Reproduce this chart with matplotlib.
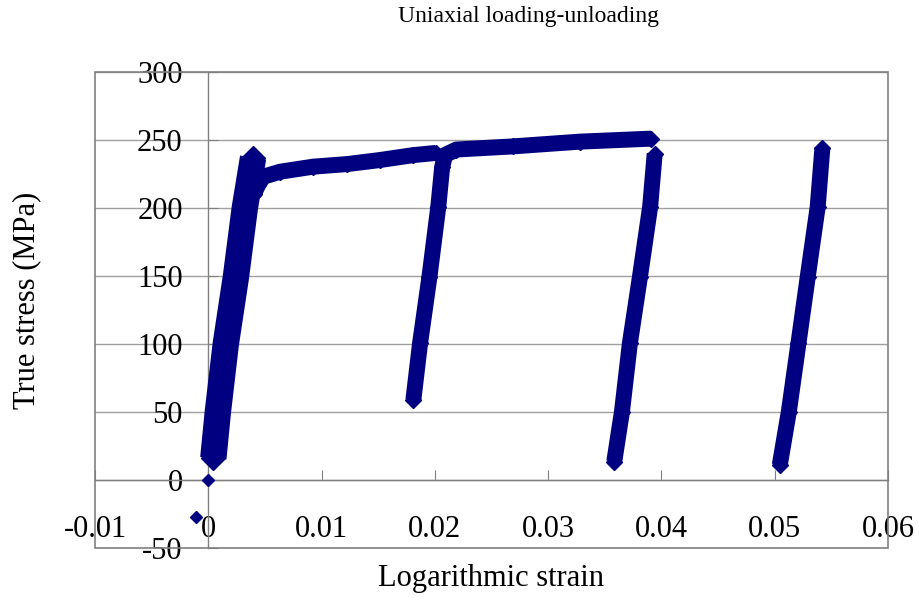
import matplotlib.pyplot as plt
from matplotlib.patches import Rectangle

plt.rcParams['font.family'] = ['Liberation Serif', 'DejaVu Serif']

NAVY = "#000080"
GRID = "#a0a0a0"
FRAME = "#808080"

# first loading (centre of the thick band)
load1_strain = [0.00044, 0.00084, 0.00154, 0.00243, 0.00322, 0.00395]
load1_stress = [16, 50, 100, 149, 200, 237]

# hardening after first yield
plat1_strain = [0.0040, 0.0044, 0.00485, 0.00635, 0.00926, 0.01226, 0.01517, 0.0181, 0.0201]
plat1_stress = [210, 217, 223, 226.7, 230.4, 232.3, 235.3, 238.9, 240.5]

# reloading from the first unload, then second hardening stage
reload1_strain = [0.0181, 0.01869, 0.01952, 0.0203, 0.02064, 0.0209, 0.0219, 0.0269, 0.0328, 0.0391]
reload1_stress = [59, 100.5, 149.5, 201, 230, 239, 243, 245.3, 248.8, 251]

# second unloading
unload2_strain = [0.0394, 0.0390, 0.0381, 0.03721, 0.03651, 0.03583]
unload2_stress = [240, 201, 149.5, 100.5, 50.2, 13.5]

# last branch
load3_strain = [0.05044, 0.05124, 0.05209, 0.05291, 0.05379, 0.0542]
load3_stress = [11, 50.2, 100.5, 149.5, 201, 244]

# isolated points near the origin
stray_strain = [0.0, -0.00106]
stray_stress = [0.0, -27.4]

x_ticks = [-0.01, 0.0, 0.01, 0.02, 0.03, 0.04, 0.05, 0.06]
x_labels = ["-0.01", "0", "0.01", "0.02", "0.03", "0.04", "0.05", "0.06"]
y_ticks = [-50, 0, 50, 100, 150, 200, 250, 300]
y_labels = ["-50", "0", "50", "100", "150", "200", "250", "300"]

fig = plt.figure(figsize=(9.2, 5.98), dpi=100)
ax = fig.add_axes([0.1033, 0.0836, 0.8620, 0.7960])

ax.plot(load1_strain, load1_stress, "-", color=NAVY, lw=19, marker="D", ms=12,
        solid_capstyle="butt", solid_joinstyle="round", zorder=3)
for xs, ys in [(plat1_strain, plat1_stress), (reload1_strain, reload1_stress),
               (unload2_strain, unload2_stress), (load3_strain, load3_stress)]:
    ax.plot(xs, ys, "-", color=NAVY, lw=11.5, marker="D", ms=8,
            solid_capstyle="butt", solid_joinstyle="round", zorder=3)
ax.plot(stray_strain, stray_stress, "D", color=NAVY, ms=6, zorder=3)

ax.set_xlim(-0.01, 0.06)
ax.set_ylim(-50, 300)
ax.set_xticks(x_ticks)
ax.set_xticklabels(x_labels)
ax.set_yticks(y_ticks)
ax.set_yticklabels(y_labels)

ax.spines["left"].set_position(("data", 0))
ax.spines["bottom"].set_position(("data", 0))
for s in ["top", "right"]:
    ax.spines[s].set_visible(False)
for s in ["left", "bottom"]:
    ax.spines[s].set_color(FRAME)
    ax.spines[s].set_linewidth(1)
ax.add_patch(Rectangle((0, 0), 1, 1, transform=ax.transAxes, fill=False,
                       edgecolor=FRAME, lw=1.2, clip_on=False, zorder=1))

ax.yaxis.grid(True, color=GRID, lw=1)
ax.set_axisbelow(True)
ax.tick_params(axis="x", direction="in", length=7, color=FRAME, pad=25, labelsize=22)
ax.tick_params(axis="y", direction="in", length=7, color=FRAME, pad=18.5, labelsize=22)

fig.text(0.5337, 0.0334, "Logarithmic strain", ha="center", va="center", fontsize=22)
fig.text(0.0293, 0.497, "True stress (MPa)", ha="center", va="center", rotation=90, fontsize=22)
fig.text(0.575, 0.9716, "Uniaxial loading-unloading", ha="center", va="center", fontsize=17)

fig.savefig("out.png", dpi=100)
